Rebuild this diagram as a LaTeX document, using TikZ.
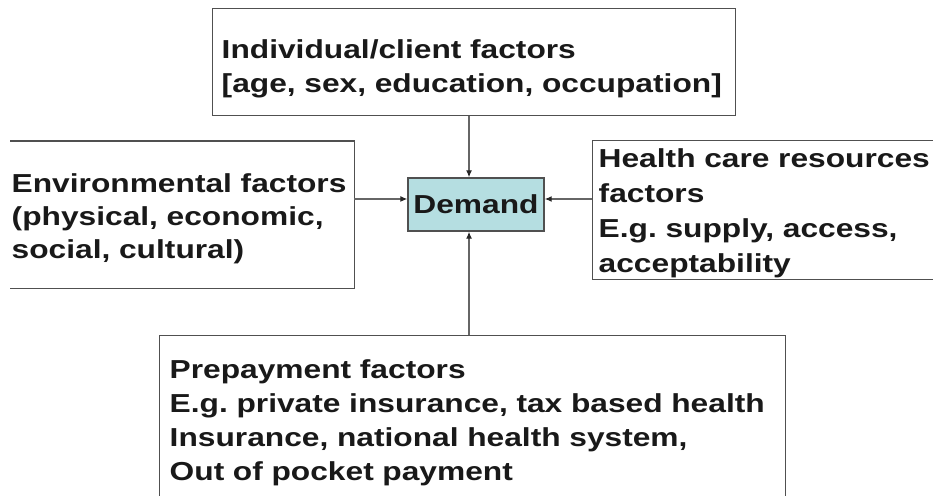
\documentclass[tikz,border=0pt]{standalone}
\usepackage{fontspec}
\newfontfamily\diagfont[FakeStretch=1.22]{Liberation Sans}
\newcommand\boxfont[1]{\diagfont\bfseries\fontsize{26}{#1}\selectfont\frenchspacing}
\usetikzlibrary{positioning,arrows.meta}
\definecolor{demandfill}{HTML}{B5DEE1}
\definecolor{boxline}{HTML}{505050}

\begin{document}
\begin{tikzpicture} [x=1pt, y=1pt,
factorbox/.style={rectangle, draw=boxline, line width=1.4pt, align=left, inner ysep=0pt, text height=19pt, text=black!90, font=\boxfont{34}},
demandnode/.style={rectangle, draw=boxline, fill=demandfill, line width=1.4pt, minimum width=136pt, minimum height=53pt, text=black!90, font=\boxfont{34}},
arrowline/.style={draw=black!60, line width=1.2pt, -{Latex[length=7pt, width=6pt, black!85]}},
]
\useasboundingbox (0,0) rectangle (933,495);

%Nodes
\node[demandnode] (demand) at (476,290.5) {Demand};
\node[factorbox, font=\boxfont{34}, text depth=27pt, anchor=north west, text width=505pt, inner xsep=9pt, minimum height=107pt] (client) at (212,487)
  {Individual/client factors\\ {[}age, sex, education, occupation{]}};
\node[factorbox, font=\boxfont{33}, text depth=63pt, draw=none, anchor=north west, text width=341pt, inner xsep=1pt, minimum height=146pt] (environment) at (10,354)
  {Environmental factors\\ (physical, economic,\\ social, cultural)};
\node[factorbox, font=\boxfont{35}, text depth=104pt, anchor=north west, text width=400pt, inner xsep=6pt, minimum height=139pt] (resources) at (592,355)
  {Health care resources\\ factors\\ E.g. supply, access,\\ acceptability};
\node[factorbox, text depth=110pt, anchor=north west, text width=606pt, inner xsep=10pt, inner ysep=24pt] (prepayment) at (159,160)
  {Prepayment factors\\ E.g. private insurance, tax based health\\ Insurance, national health system,\\ Out of pocket payment};

%Lines
\draw[boxline, line width=1.4pt] (environment.north west) -- (environment.north east) -- (environment.south east) -- (environment.south west);
\coordinate (demandN) at ([xshift=-7pt]demand.north);
\coordinate (demandS) at ([xshift=-7pt]demand.south);
\coordinate (demandW) at ([yshift=5.5pt]demand.west);
\coordinate (demandE) at ([yshift=5.5pt]demand.east);
\draw[arrowline] (client.south -| demandN) -- (demandN);
\draw[arrowline] (prepayment.north -| demandS) -- (demandS);
\draw[arrowline] (environment.east |- demandW) -- (demandW);
\draw[arrowline] (resources.west |- demandE) -- (demandE);

\end{tikzpicture}
\end{document}
